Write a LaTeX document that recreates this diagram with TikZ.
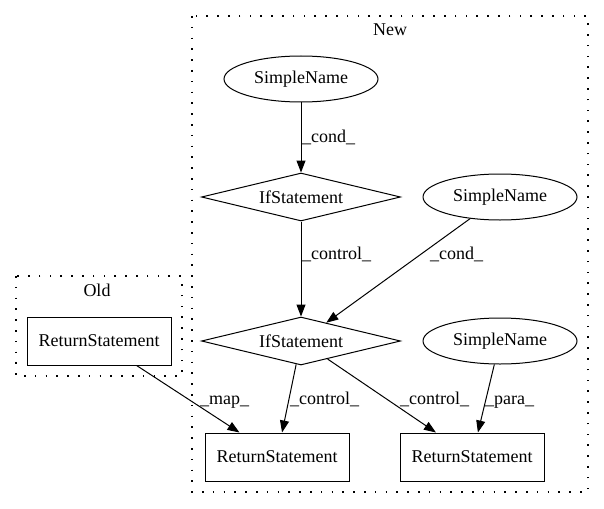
\documentclass[tikz,border=0pt]{standalone}
\usepackage{fontspec}
\setmainfont{Liberation Serif}
\usetikzlibrary{shapes.geometric, arrows.meta}

\tikzset{
  every node/.style={font=\fontsize{18}{21}\selectfont},
  sname/.style={draw, ellipse, line width=1pt, minimum width=154pt, minimum height=46pt, inner sep=0pt},
  ifst/.style={draw, diamond, aspect=4, line width=1pt, minimum width=199pt, minimum height=48pt, inner sep=0pt},
  retst/.style={draw, rectangle, line width=1pt, minimum width=144pt, minimum height=48pt, inner sep=0pt},
  cluster/.style={line width=1.4pt, dash pattern=on 1.6pt off 9.2pt},
  edge/.style={-{Triangle[length=12pt,width=9pt]}, line width=1pt},
  lbl/.style={anchor=base west, inner sep=0pt}
}

\begin{document}
\begin{tikzpicture}[x=1pt, y=-1pt]
  \useasboundingbox (0,0) rectangle (604,508);

  % Clusters
  \draw[cluster] (16,276) rectangle (182,376);
  \node[anchor=base] (oldlbl) at (97,296) {Old};
  \draw[cluster] (192,16) rectangle (588,492);
  \node[anchor=base] (newlbl) at (390,36) {New};

  % Old
  \node[retst] (oldret) at (99,341) {ReturnStatement};

  % New
  \node[sname] (sn1) at (301,79) {SimpleName};
  \node[ifst] (if1) at (301,197) {IfStatement};
  \node[sname] (sn2) at (500,197) {SimpleName};
  \node[ifst] (if2) at (301,341) {IfStatement};
  \node[sname] (sn3) at (500,341) {SimpleName};
  \node[retst] (ret1) at (277,457) {ReturnStatement};
  \node[retst] (ret2) at (472,457) {ReturnStatement};

  % Edges
  \draw[edge] (sn1) -- (if1);
  \draw[edge] (if1) -- (if2);
  \draw[edge] (sn2) -- (if2);
  \draw[edge] (oldret) -- (ret1);
  \draw[edge] (if2) -- (ret1);
  \draw[edge] (if2) -- (ret2);
  \draw[edge] (sn3) -- (ret2);

  % Edge labels
  \node[lbl] (l1) at (302,142) {\_cond\_};
  \node[lbl] (l2) at (302,259) {\_control\_};
  \node[lbl] (l3) at (430,259) {\_cond\_};
  \node[lbl] (l4) at (200,404) {\_map\_};
  \node[lbl] (l5) at (290,404) {\_control\_};
  \node[lbl] (l6) at (400,404) {\_control\_};
  \node[lbl] (l7) at (485,404) {\_para\_};
\end{tikzpicture}
\end{document}
